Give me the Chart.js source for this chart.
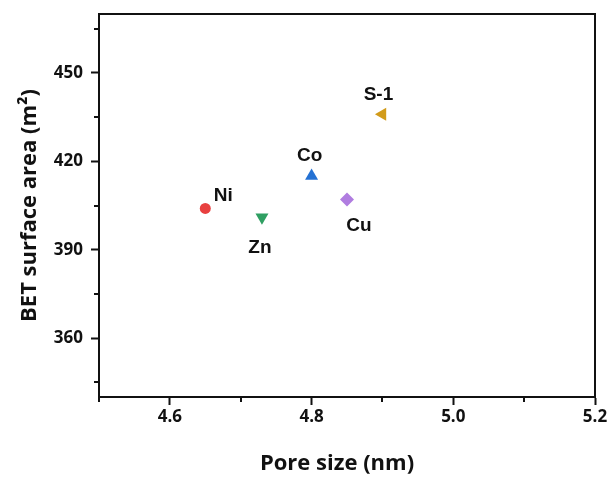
<!DOCTYPE html>
<html>
<head>
<meta charset="utf-8">
<script src="https://cdn.jsdelivr.net/npm/chart.js@4.4.1/dist/chart.umd.min.js"></script>
<style>
  html, body { margin: 0; padding: 0; background: #fff; }
  #wrap { width: 615px; height: 480px; }
</style>
</head>
<body>
<div id="wrap"><canvas id="bet"></canvas></div>
<script>
// samples and their textural properties
const samples = ['Ni', 'Zn', 'Co', 'Cu', 'S-1'];
const poreSize = [4.65, 4.73, 4.80, 4.85, 4.90];      // nm
const surfaceArea = [404, 401, 415, 407, 436];        // m2

const xTicks = [4.6, 4.8, 5.0, 5.2];
const xMinor = [4.5, 4.7, 4.9, 5.1];
const yTicks = [360, 390, 420, 450];
const yMinor = [345, 375, 405, 435, 465];

// marker look per sample
const colors = ['#e8403f', '#2f9f62', '#2471d3', '#b07de0', '#d29b1a'];
const shapes = ['circle', 'triangle', 'triangle', 'rectRot', 'triangle'];
const turns = [0, 180, 0, 0, -90];
const sizes = [5.5, 7.5, 7.5, 7, 7.5];
// label offset from its marker, px
const labelDx = [18, -2, -2, 12, -4];
const labelDy = [-13, 30, -20, 26, -19];

const INK = '#111';
const tickFont = { family: 'Open Sans', weight: 'bold', size: 17 };

// frame on all four sides plus short minor ticks
const frame = {
  id: 'frame',
  afterDraw(chart) {
    const { ctx, chartArea: a, scales: { x, y } } = chart;
    ctx.save();
    ctx.strokeStyle = INK;
    ctx.lineWidth = 2;
    ctx.strokeRect(a.left, a.top, a.right - a.left, a.bottom - a.top);
    ctx.beginPath();
    xMinor.forEach(v => {
      const px = Math.round(x.getPixelForValue(v));
      ctx.moveTo(px, a.bottom);
      ctx.lineTo(px, a.bottom + 5);
    });
    yMinor.forEach(v => {
      const py = Math.round(y.getPixelForValue(v));
      ctx.moveTo(a.left, py);
      ctx.lineTo(a.left - 5, py);
    });
    ctx.stroke();
    ctx.restore();
  }
};

// sample names next to the markers
const pointLabels = {
  id: 'pointLabels',
  afterDatasetsDraw(chart) {
    const { ctx, scales: { x, y } } = chart;
    ctx.save();
    ctx.fillStyle = INK;
    ctx.font = 'bold 19px "Liberation Sans", Arial, sans-serif';
    ctx.textAlign = 'center';
    ctx.textBaseline = 'middle';
    samples.forEach((s, i) => {
      ctx.fillText(s, x.getPixelForValue(poreSize[i]) + labelDx[i],
                      y.getPixelForValue(surfaceArea[i]) + labelDy[i]);
    });
    ctx.restore();
  }
};

// axis titles
const axisTitles = {
  id: 'axisTitles',
  afterDraw(chart) {
    const { ctx, chartArea: a } = chart;
    ctx.save();
    ctx.fillStyle = INK;
    ctx.font = 'bold 22px "Open Sans", sans-serif';
    ctx.textAlign = 'center';
    ctx.textBaseline = 'middle';
    ctx.fillText('Pore size (nm)', (a.left + a.right) / 2 - 10, 464);
    ctx.translate(30, (a.top + a.bottom) / 2);
    ctx.rotate(-Math.PI / 2);
    ctx.fillText('BET surface area (m\u00B2)', 0, 0);
    ctx.restore();
  }
};

new Chart(document.getElementById('bet'), {
  type: 'scatter',
  data: {
    datasets: [{
      data: samples.map((s, i) => ({ x: poreSize[i], y: surfaceArea[i] })),
      backgroundColor: colors,
      borderColor: colors,
      borderWidth: 0,
      pointStyle: shapes,
      rotation: turns,
      radius: sizes,
      hoverRadius: sizes
    }]
  },
  options: {
    responsive: true,
    maintainAspectRatio: false,
    animation: false,
    layout: { padding: { top: 14, right: 20, left: 0, bottom: 0 } },
    plugins: { legend: { display: false }, tooltip: { enabled: false } },
    scales: {
      x: {
        type: 'linear',
        min: 4.5,
        max: 5.2,
        afterBuildTicks: s => { s.ticks = xTicks.map(v => ({ value: v })); },
        afterFit: s => { s.height = 83; s.paddingLeft = 0; s.paddingRight = 0; },
        grid: { drawOnChartArea: false, tickLength: 8, tickWidth: 2, tickColor: INK },
        border: { display: true, width: 2, color: INK },
        ticks: { color: INK, font: tickFont, padding: 2, maxRotation: 0,
                 callback: v => v.toFixed(1) }
      },
      y: {
        type: 'linear',
        min: 340,
        max: 470,
        afterBuildTicks: s => { s.ticks = yTicks.map(v => ({ value: v })); },
        afterFit: s => { s.width = 99; s.paddingTop = 0; s.paddingBottom = 0; },
        grid: { drawOnChartArea: false, tickLength: 8, tickWidth: 2, tickColor: INK },
        border: { display: true, width: 2, color: INK },
        ticks: { color: INK, font: tickFont, padding: 8,
                 callback: v => v.toFixed(0) }
      }
    }
  },
  plugins: [frame, pointLabels, axisTitles]
});
</script>
</body>
</html>
